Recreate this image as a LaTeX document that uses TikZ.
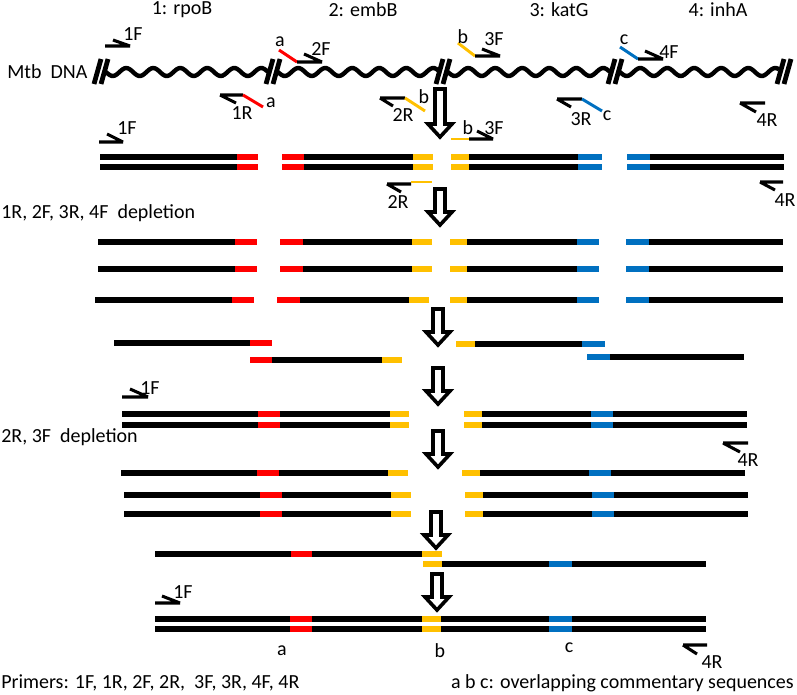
\documentclass[tikz,border=0pt]{standalone}
\usepackage{fontspec}
\setmainfont{Carlito}
\usepackage{tikz}

\definecolor{pred}{RGB}{255,0,0}
\definecolor{pyel}{RGB}{255,192,0}
\definecolor{pblu}{RGB}{0,112,192}

\tikzset{
  strand/.style={line width=4pt},
  primer/.style={line width=2.3pt},
  tag/.style={line width=2.2pt},
  wave/.style={line width=3.3pt},
  brk/.style={line width=3.6pt},
  hollow/.style={line width=2.7pt,fill=white},
  lbl/.style={inner sep=0pt,font=\fontsize{15}{18}\selectfont},
}

\begin{document}
\begin{tikzpicture}[x=0.75pt,y=-0.75pt]
\useasboundingbox (0,0) rectangle (797,694);

% gene headers
\node[lbl] (rpob) at (182,10) {1: rpoB};
\node[lbl] (embb) at (363,10) {2: embB};
\node[lbl] (katg) at (559,10) {3: katG};
\node[lbl] (inha) at (718,10) {4: inhA};
\node[lbl,anchor=west] (mtb) at (7,72) {Mtb\ \ DNA};

% genomic DNA
\foreach \s/\e in {106/268,278/438,448/610,620/779}
  \draw[wave] plot[domain=\s:\e,samples=90,smooth] (\x,{72+4*sin((\x-\s)/27*360)});
\foreach \b in {101,273,443,615,784}
  \draw[brk] (\b-7,84) -- (\b,59) (\b,84) -- (\b+7,59);

% primers on genomic DNA
\draw[primer] (105,46) -- (130,46) (113,40) -- (130,46);
\node[lbl] (f1a) at (133,34) {1F};
\draw[tag,pred] (279,50) -- (297,62);
\draw[primer] (297,62) -- (322,62) (304,54) -- (322,62);
\node[lbl] (ta1) at (280,42) {a};
\node[lbl] (f2) at (321,49) {2F};
\draw[tag,pyel] (458,43) -- (475,56);
\draw[primer] (475,56) -- (500,56) (482,49) -- (500,56);
\node[lbl] (tb1) at (463,37) {b};
\node[lbl] (f3a) at (494,39) {3F};
\draw[tag,pblu] (620,47) -- (638,59);
\draw[primer] (638,59) -- (663,59) (645,51) -- (663,59);
\node[lbl] (tc1) at (624,40) {c};
\node[lbl] (f4) at (669,52) {4F};
\draw[primer] (220,95) -- (243,95) (220,95) -- (236,103);
\draw[tag,pred] (243,95) -- (263,107);
\node[lbl] (ta2) at (271,103) {a};
\node[lbl] (r1) at (242,113) {1R};
\draw[primer] (380,98) -- (405,98) (380,98) -- (393,106);
\draw[tag,pyel] (405,98) -- (425,111);
\node[lbl] (tb2) at (424,97) {b};
\node[lbl] (r2a) at (403,115) {2R};
\draw[primer] (557,99) -- (582,99) (557,99) -- (571,107);
\draw[tag,pblu] (582,99) -- (602,111);
\node[lbl] (r3) at (581,119) {3R};
\node[lbl] (tc2) at (607,116) {c};
\draw[primer] (740,103) -- (765,103) (740,103) -- (756,112);
\node[lbl] (r4a) at (767,120) {4R};

% step arrows
\foreach \t/\b/\c in {89/137/440,189/225/440,309/345/438,368/404/438,431/467/438,512/548/436,574/610/437}
  \draw[hollow] (\c-5,\t) -- (\c+5,\t) -- (\c+5,\b-13) -- (\c+12,\b-13) -- (\c,\b)
    -- (\c-12,\b-13) -- (\c-5,\b-13) -- cycle;

% first PCR products
\foreach \y in {157,167}
  \foreach \col/\xa/\xb in {black/100/237,pred/237/258,pred/282/304,black/304/413,pyel/413/433,
      pyel/451/469,black/469/578,pblu/578/602,pblu/627/650,black/650/784}
    \draw[strand,draw=\col] (\xa,\y) -- (\xb,\y);
\draw[primer] (99,142) -- (123,142) (107,134) -- (123,142);
\node[lbl] (f1b) at (127,128) {1F};
\draw[tag,pyel] (451,139) -- (469,139);
\draw[primer] (469,139) -- (493,139) (477,131) -- (493,139);
\node[lbl] (tb3) at (468,128) {b};
\node[lbl] (f3b) at (494,128) {3F};
\draw[primer] (387,184) -- (411,184) (387,184) -- (401,192);
\draw[tag,pyel] (411,182) -- (432,182);
\node[lbl] (r2b) at (398,202) {2R};
\draw[primer] (760,182) -- (783,182) (760,182) -- (775,190);
\node[lbl] (r4b) at (785,200) {4R};

\node[lbl,anchor=west] (dep1) at (1,213) {1R, 2F, 3R, 4F\ \ depletion};

% single strands after depletion
\foreach \y/\d in {242/0,269/0,300/-3}
  \foreach \col/\xa/\xb in {black/98/235,pred/235/257,pred/280/303,black/303/412,pyel/412/432}
    \draw[strand,draw=\col] (\xa+\d,\y) -- (\xb+\d,\y);
\foreach \y in {242,269,300}
  \foreach \col/\xa/\xb in {pyel/450/467,black/467/577,pblu/577/599,pblu/626/649,black/649/783}
    \draw[strand,draw=\col] (\xa,\y) -- (\xb,\y);

% annealing by overlaps
\draw[strand] (114,343) -- (250,343);
\draw[strand,pred] (250,343) -- (272,343);
\draw[strand,pred] (250,360) -- (272,360);
\draw[strand] (272,360) -- (382,360);
\draw[strand,pyel] (382,360) -- (402,360);
\draw[strand,pyel] (456,344) -- (475,344);
\draw[strand] (475,344) -- (582,344);
\draw[strand,pblu] (582,344) -- (605,344);
\draw[strand,pblu] (587,357) -- (610,357);
\draw[strand] (610,357) -- (744,357);

% second PCR products
\foreach \y in {414,425}
  \foreach \col/\xa/\xb in {black/122/258,pred/258/280,black/280/390,pyel/390/409,
      pyel/464/482,black/482/591,pblu/591/613,black/613/747}
    \draw[strand,draw=\col] (\xa,\y) -- (\xb,\y);
\draw[primer] (122,397) -- (148,397) (130,389) -- (148,397);
\node[lbl] (f1c) at (150,388) {1F};

\node[lbl,anchor=west] (dep2) at (1,437) {2R, 3F\ \ depletion};
\draw[primer] (723,443) -- (748,443) (723,443) -- (740,452);
\node[lbl] (r4c) at (748,460) {4R};

\foreach \y/\d in {473/-3,495/0,514/0}
  \foreach \col/\xa/\xb in {black/124/260,pred/260/282,black/282/391,pyel/391/411,
      pyel/465/483,black/483/592,pblu/592/614,black/614/748}
    \draw[strand,draw=\col] (\xa+\d,\y) -- (\xb+\d,\y);

% annealing of halves
\foreach \col/\xa/\xb in {black/155/291,pred/291/312,black/312/422,pyel/422/442}
  \draw[strand,draw=\col] (\xa,554) -- (\xb,554);
\foreach \col/\xa/\xb in {pyel/423/442,black/442/549,pblu/549/572,black/572/706}
  \draw[strand,draw=\col] (\xa,564) -- (\xb,564);

% final product
\foreach \y in {619,629}
  \foreach \col/\xa/\xb in {black/155/290,pred/290/312,black/312/422,pyel/422/441,
      black/441/549,pblu/549/572,black/572/706}
    \draw[strand,draw=\col] (\xa,\y) -- (\xb,\y);
\draw[primer] (155,603) -- (180,603) (162,596) -- (180,603);
\node[lbl] (f1d) at (183,592) {1F};
\node[lbl] (ta3) at (282,651) {a};
\node[lbl] (tb4) at (440,651) {b};
\node[lbl] (tc3) at (569,648) {c};
\draw[primer] (683,645) -- (707,645) (683,645) -- (697,654);
\node[lbl] (r4d) at (712,662) {4R};

\node[lbl,anchor=west] (prim) at (1,683) {Primers: 1F, 1R, 2F, 2R,\ \ 3F, 3R, 4F, 4R};
\node[lbl,anchor=east] (ovl) at (794,683) {a b c: overlapping commentary sequences};
\end{tikzpicture}
\end{document}
